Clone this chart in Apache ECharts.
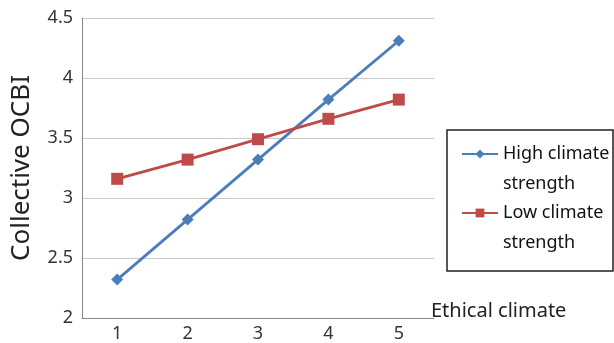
<!DOCTYPE html>
<html><head><meta charset="utf-8">
<script src="https://cdn.jsdelivr.net/npm/echarts@6/dist/echarts.min.js"></script>
<style>html,body{margin:0;padding:0;background:#fff}#c{width:614px;height:343px}</style>
</head><body><div id="c"></div>
<script>
var categories = ['1', '2', '3', '4', '5'];
var highClimate = [2.32, 2.82, 3.32, 3.82, 4.31];
var lowClimate = [3.16, 3.32, 3.49, 3.66, 3.82];
var seriesNames = ['High climate strength', 'Low climate strength'];
var xAxisTitle = 'Ethical climate';
var yAxisTitle = 'Collective OCBI';

var chart = echarts.init(document.getElementById('c'));
var font = 'Noto Sans';
chart.setOption({
  animation: false,
  backgroundColor: '#fff',
  grid: {left: 82, right: 180, top: 18, bottom: 25},
  xAxis: {
    type: 'category', data: categories, boundaryGap: true,
    name: xAxisTitle, nameLocation: 'end', nameGap: -3,
    nameTextStyle: {fontFamily: font, fontSize: 20, color: '#222', verticalAlign: 'bottom', align: 'left', lineHeight: 14},
    axisLine: {lineStyle: {color: '#868686', width: 1}},
    axisTick: {show: false},
    axisLabel: {fontFamily: font, fontSize: 18, color: '#333', margin: 7}
  },
  yAxis: {
    type: 'value', min: 2, max: 4.5, interval: 0.5,
    name: yAxisTitle, nameLocation: 'middle', nameGap: 47,
    nameTextStyle: {fontFamily: font, fontSize: 26, color: '#222'},
    axisLine: {show: true, lineStyle: {color: '#868686', width: 1}},
    axisTick: {show: false},
    axisLabel: {fontFamily: font, fontSize: 18, color: '#333', margin: 9},
    splitLine: {lineStyle: {color: '#c8c8c8', width: 1}}
  },
  legend: {
    orient: 'vertical', left: 461, top: 109, padding: 0,
    itemWidth: 36, itemHeight: 11, itemGap: -31,
    formatter: function (n) { return ' \n' + n.replace(' strength', '\nstrength'); },
    textStyle: {fontFamily: font, fontSize: 18, color: '#111', lineHeight: 30},
    data: seriesNames
  },
  graphic: [{
    type: 'rect', shape: {x: 447, y: 130, width: 166, height: 141},
    style: {fill: 'none', stroke: '#222', lineWidth: 1.5}, z: 100
  }],
  series: [
    {name: seriesNames[0], type: 'line', data: highClimate, symbol: 'diamond', symbolSize: 12,
     lineStyle: {color: '#4a7ebb', width: 2.8}, itemStyle: {color: '#4a7ebb'}},
    {name: seriesNames[1], type: 'line', data: lowClimate, symbol: 'rect', symbolSize: 12,
     lineStyle: {color: '#be4b48', width: 2.8}, itemStyle: {color: '#be4b48'}}
  ]
});
</script></body></html>
